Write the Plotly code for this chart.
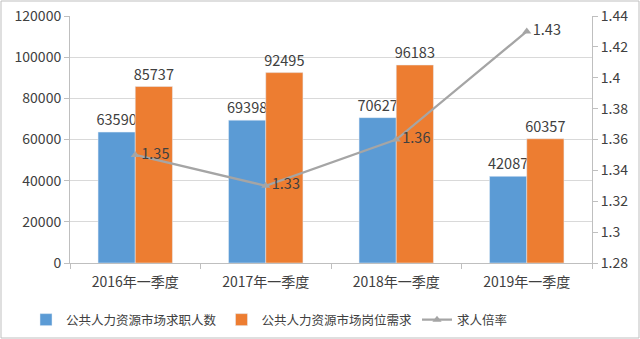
import plotly.graph_objects as go

categories = ["2016年一季度", "2017年一季度", "2018年一季度", "2019年一季度"]
seekers = [63590, 69398, 70627, 42087]
demand = [85737, 92495, 96183, 60357]
ratio = [1.35, 1.33, 1.36, 1.43]

FONT = "Noto Sans CJK SC, Liberation Sans, sans-serif"
TXT = "#404040"

fig = go.Figure()
fig.add_trace(go.Bar(x=categories, y=seekers, name="公共人力资源市场求职人数",
                     marker_color="#5B9BD5", text=[str(v) for v in seekers],
                     textposition="outside", textfont=dict(size=14.5, color=TXT),
                     constraintext="none", cliponaxis=False))
fig.add_trace(go.Bar(x=categories, y=demand, name="公共人力资源市场岗位需求",
                     marker_color="#ED7D31", text=[str(v) for v in demand],
                     textposition="outside", textfont=dict(size=14.5, color=TXT),
                     constraintext="none", cliponaxis=False))
fig.add_trace(go.Scatter(x=categories, y=ratio, name="求人倍率", yaxis="y2",
                         mode="lines+markers+text",
                         line=dict(color="#A5A5A5", width=2.25),
                         marker=dict(symbol="triangle-up", size=8, color="#A5A5A5"),
                         text=[f"{v:.2f}" for v in ratio], textposition="middle right",
                         textfont=dict(size=14.5, color=TXT), cliponaxis=False))

W, H = 640, 339
L, R, T, B = 70, 48, 16, 76
pw = W - L - R
ph = H - T - B

fig.update_layout(
    width=W, height=H,
    margin=dict(l=L, r=R, t=T, b=B, autoexpand=False),
    paper_bgcolor="white", plot_bgcolor="white",
    font=dict(family=FONT, size=14, color=TXT),
    barmode="group", bargap=0.43, bargroupgap=0,
    showlegend=True,
    legend=dict(orientation="h", x=(26 - L) / pw, xanchor="left",
                y=-(320 - (T + ph)) / ph, yanchor="middle",
                font=dict(size=12.5, color=TXT), itemwidth=30,
                tracegroupgap=0, bgcolor="rgba(0,0,0,0)"),
    xaxis=dict(showline=True, linecolor="#BFBFBF", ticks="outside", tickson="boundaries",
               ticklen=5, tickcolor="#BFBFBF", ticklabelstandoff=6, automargin=False,
               tickfont=dict(size=14, color=TXT), showgrid=False),
    yaxis=dict(range=[0, 120000], dtick=20000, showgrid=True, gridcolor="#D9D9D9",
               showline=True, linecolor="#BFBFBF", ticks="outside", ticklen=5,
               tickcolor="#BFBFBF", tickfont=dict(size=14, color=TXT), zeroline=False,
               tickformat="d", automargin=False),
    yaxis2=dict(range=[1.28, 1.44], dtick=0.02, overlaying="y", side="right",
                showgrid=False, showline=True, linecolor="#BFBFBF", ticks="outside",
                ticklen=5, tickcolor="#BFBFBF", tickfont=dict(size=14, color=TXT),
                zeroline=False, tickformat="~g", automargin=False),
    shapes=[dict(type="rect", xref="paper", yref="paper",
                 x0=-(L - 1) / pw, x1=1 + (R - 1) / pw,
                 y0=-(B - 1) / ph, y1=1 + (T - 1) / ph,
                 line=dict(color="#BFBFBF", width=1))],
)

fig.write_html("out.html")
